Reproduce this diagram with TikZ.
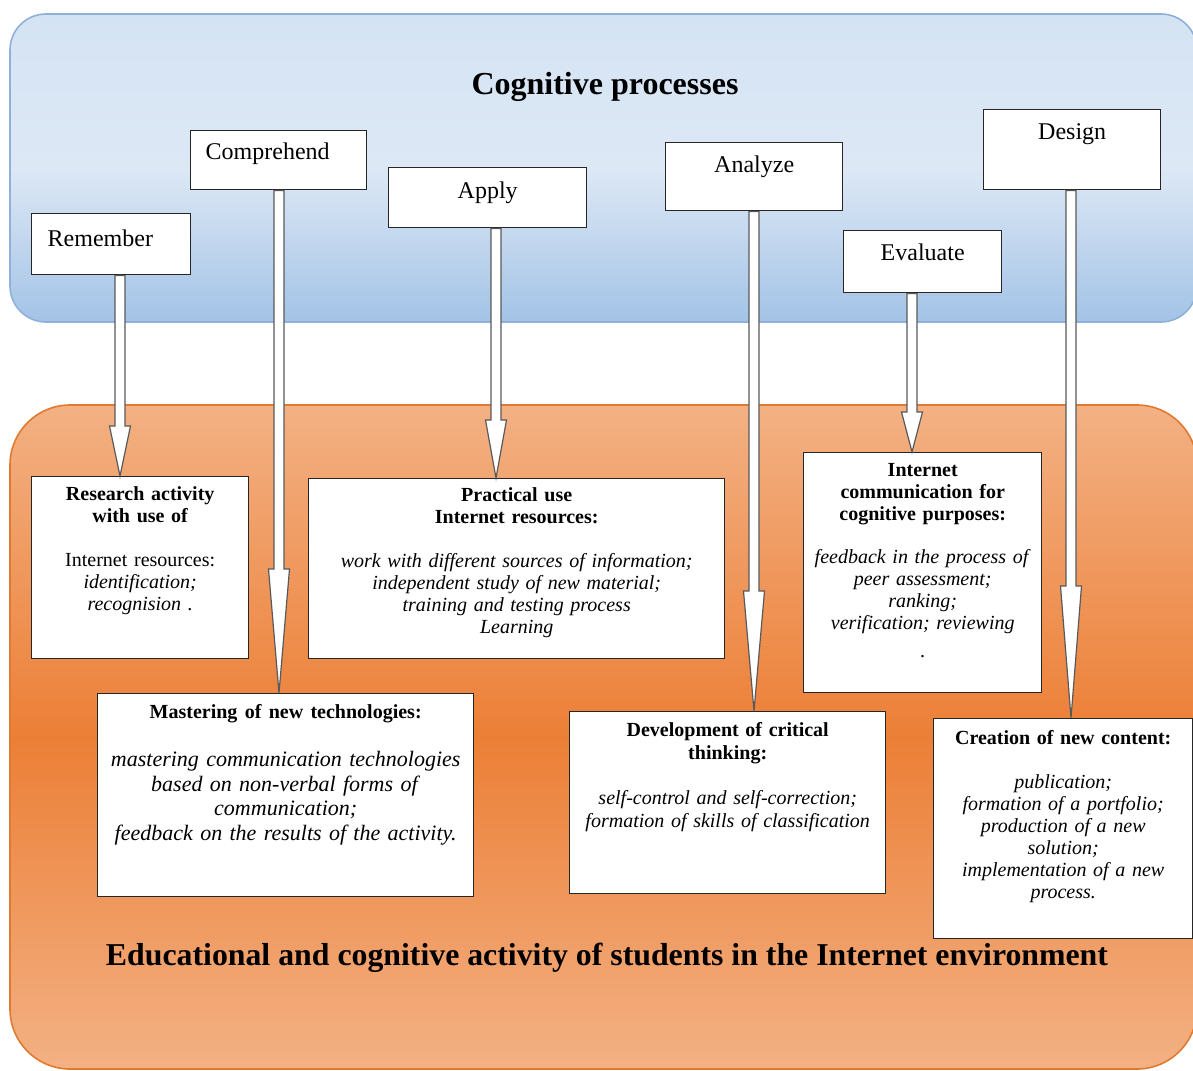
\documentclass[tikz,border=0pt]{standalone}
\usepackage{fontspec}
\setmainfont{Liberation Serif}
\usetikzlibrary{calc}

\definecolor{skytop}{HTML}{D4E3F3}
\definecolor{skymid}{HTML}{DDE8F5}
\definecolor{skybot}{HTML}{A3C3E6}
\definecolor{skyedge}{HTML}{8FB0D8}
\definecolor{peach}{HTML}{F3B184}
\definecolor{tangerine}{HTML}{EC7F36}
\definecolor{rustedge}{HTML}{E07A30}

\newcommand{\hollowarrow}[4]{%
  \draw[blockarrow] let \p1=(#2.south), \p2=(#3.north), \p3=(#1,0) in
    (\x3-2.5pt,\y1) -- (\x3-2.5pt,\y2+#4) -- (\x3-5.25pt,\y2+#4) -- (\x3,\y2)
    -- (\x3+5.25pt,\y2+#4) -- (\x3+2.5pt,\y2+#4) -- (\x3+2.5pt,\y1) -- cycle;}

\begin{document}
\begin{tikzpicture}[x=0.5pt,y=-0.5pt,
  stage/.style={draw=black!85, line width=0.7pt, fill=white, anchor=north west,
    inner xsep=0pt, inner ysep=0pt, align=center, font=\fontsize{12}{14}\selectfont},
  activity/.style={draw=black!85, line width=0.7pt, fill=white, anchor=north west,
    inner xsep=3pt, inner ysep=0pt, align=center, font=\fontsize{10}{11}\selectfont},
  blockarrow/.style={draw=black!65, line width=0.6pt, fill=white}]

\useasboundingbox (0,0) rectangle (1193,1070);

% panels
\path[draw=skyedge, line width=0.8pt, rounded corners=18pt,
  top color=skytop, bottom color=skybot, middle color=skymid] (10,14) rectangle (1197,322);
\path[draw=rustedge, line width=0.8pt, rounded corners=30pt,
  top color=peach, bottom color=peach, middle color=tangerine] (10,405) rectangle (1197,1069);

\node[font=\bfseries\fontsize{16}{18}\selectfont] (cogtitle) at (605,87) {Cognitive processes};
\node[font=\bfseries\fontsize{15.9}{18}\selectfont] (envtitle) at (607,958)
  {Educational and cognitive activity of students in the Internet environment};

% cognitive processes
\node[stage, align=left, inner xsep=8pt, text width=63.5pt, text height=16.5pt, text depth=14pt] (remember) at (31,213) {Remember};
\node[stage, align=left, inner xsep=7.5pt, text width=73pt, text height=14.5pt, text depth=15pt] (comprehend) at (190,130) {Comprehend};
\node[stage, text width=99pt, text height=15.5pt, text depth=14.5pt] (apply) at (388,167) {Apply};
\node[stage, text width=88.5pt, text height=15pt, text depth=19pt] (analyze) at (665,142) {Analyze};
\node[stage, text width=79pt, text height=15pt, text depth=16pt] (evaluate) at (843,230) {Evaluate};
\node[stage, text width=88.5pt, text height=15pt, text depth=25pt] (design) at (983,109) {Design};

% activities
\node[activity, text width=102.5pt, text height=12pt, text depth=79pt] (research) at (31,476)
  {\textbf{Research activity}\\ \textbf{with use of}\\[11pt] Internet resources:\\
   \textit{identification;}\\ \textit{recognision .}};
\node[activity, text width=202pt, text height=11.5pt, text depth=78.5pt] (practical) at (308,478)
  {\textbf{Practical use}\\ \textbf{Internet resources:}\\[11pt]
   \textit{work with different sources of information;}\\ \textit{independent study of new material;}\\
   \textit{training and testing process}\\ \textit{Learning}};
\node[activity, text width=113pt, text height=12pt, text depth=108pt] (netcomm) at (803,452)
  {\textbf{Internet}\\ \textbf{communication for}\\ \textbf{cognitive purposes:}\\[10.5pt]
   \textit{feedback in the process of}\\ \textit{peer assessment;}\\ \textit{ranking;}\\
   \textit{verification; reviewing}\\[3pt] .};
\node[activity, text width=182pt, text height=12.5pt, text depth=89pt, font=\fontsize{11}{12.3}\selectfont] (mastering) at (97,693)
  {\textbf{\fontsize{10}{11}\selectfont Mastering of new technologies:}\\[11.7pt]
   \textit{mastering communication technologies}\\ \textit{based on non-verbal forms of}\\
   \textit{communication;}\\ \textit{feedback on the results of the activity.}};
\node[activity, text width=152pt, text height=12.5pt, text depth=78.5pt, font=\fontsize{10}{11.5}\selectfont] (critical) at (569,711)
  {\textbf{Development of critical}\\ \textbf{thinking:}\\[11pt]
   \textit{self-control and self-correction;}\\ \textit{formation of skills of classification}};
\node[activity, text width=123.5pt, text height=13pt, text depth=97pt] (creation) at (933,718)
  {\textbf{Creation of new content:}\\[11pt] \textit{publication;}\\ \textit{formation of a portfolio;}\\
   \textit{production of a new}\\ \textit{solution;}\\ \textit{implementation of a new}\\ \textit{process.}};

% arrows
\hollowarrow{120}{remember}{research}{25pt}
\hollowarrow{279}{comprehend}{mastering}{62pt}
\hollowarrow{496}{apply}{practical}{29pt}
\hollowarrow{754}{analyze}{critical}{60pt}
\hollowarrow{912}{evaluate}{netcomm}{20pt}
\hollowarrow{1071}{design}{creation}{66pt}
\end{tikzpicture}
\end{document}
